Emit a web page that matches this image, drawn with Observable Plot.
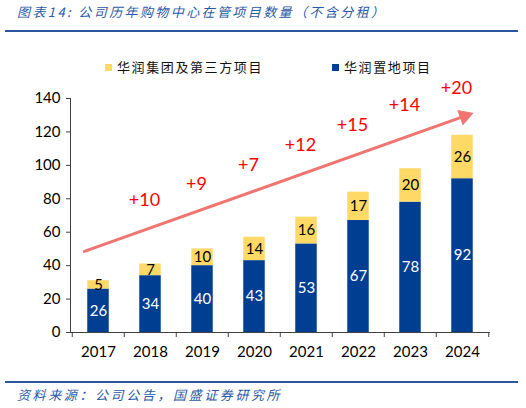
<!DOCTYPE html>
<html>
<head>
<meta charset="utf-8">
<script src="https://cdn.jsdelivr.net/npm/d3@7"></script>
<script src="https://cdn.jsdelivr.net/npm/@observablehq/plot@0.6"></script>
<style>
  html, body { margin: 0; padding: 0; background: #fff; }
  #wrap { position: relative; width: 526px; height: 408px; overflow: hidden; }
  #header { position: relative; width: 526px; height: 80px; }
  #title { position: absolute; left: 17px; top: 3px; font-family: "Noto Sans CJK SC", sans-serif; font-style: italic; font-size: 13px; letter-spacing: 2.4px; color: #2a5aa6; white-space: nowrap; line-height: 18px; }
  #rule1 { position: absolute; left: 5px; top: 30px; width: 513px; height: 2px; background: #2a55a0; }
  .leg { position: absolute; top: 59px; font-family: "Noto Sans CJK SC", sans-serif; font-size: 13px; letter-spacing: 1.6px; color: #111; white-space: nowrap; line-height: 16px; }
  .sw { display: inline-block; width: 7px; height: 7px; margin-right: 5px; vertical-align: 1px; }
  #chart { position: relative; height: 300px; }
  #footer { position: relative; height: 28px; }
  #rule2 { position: absolute; left: 5px; top: 1px; width: 513px; height: 1.5px; background: #2a55a0; }
  #source { position: absolute; left: 17px; top: 6px; font-family: "Noto Sans CJK SC", sans-serif; font-style: italic; font-size: 13px; letter-spacing: 2.6px; color: #2a5aa6; white-space: nowrap; line-height: 18px; }
</style>
</head>
<body>
<div id="wrap">
  <div id="header">
    <div id="title">图表14: 公司历年购物中心在管项目数量（不含分租）</div>
    <div id="rule1"></div>
    <div class="leg" style="left:105px"><span class="sw" style="background:#FFD966"></span>华润集团及第三方项目</div>
    <div class="leg" style="left:332px"><span class="sw" style="background:#003E92"></span>华润置地项目</div>
  </div>
  <div id="chart"></div>
  <div id="footer">
    <div id="rule2"></div>
    <div id="source">资料来源：公司公告，国盛证券研究所</div>
  </div>
</div>
<script>
// ---- data ----
const years = ["2017", "2018", "2019", "2020", "2021", "2022", "2023", "2024"];
const landProjects = [26, 34, 40, 43, 53, 67, 78, 92];      // 华润置地项目
const groupProjects = [5, 7, 10, 14, 16, 17, 20, 26];       // 华润集团及第三方项目
const incrementYears = ["2018", "2019", "2020", "2021", "2022", "2023", "2024"];
const increments = ["+10", "+9", "+7", "+12", "+15", "+14", "+20"];
const incrementLabelLevels = [79, 89, 100, 112, 124, 136, 146];
const arrowFrom = {year: "2017", value: 51.5};
const arrowTo = {year: "2024", value: 129};
const yTicks = [0, 20, 40, 60, 80, 100, 120, 140];

const BLUE = "#003E92";
const YELLOW = "#FFD966";
const ARROW = "#F07470";

const rows = years.map((year, i) => ({
  year,
  land: landProjects[i],
  group: groupProjects[i],
  total: landProjects[i] + groupProjects[i]
}));
const incRows = incrementYears.map((year, i) => ({year, text: increments[i], level: incrementLabelLevels[i]}));
const arrowRows = [{x1: arrowFrom.year, y1: arrowFrom.value, x2: arrowTo.year, y2: arrowTo.value}];

const W = 526, H = 300, mL = 70, mR = 36, mT = 18, mB = 48;
const yMax = 140;
const bw = (W - mL - mR) / years.length;
const inset = (bw - 22) / 2;
const axisColor = "#404040";

// arrow direction in pixels (for the filled head)
const pxPerUnit = (H - mT - mB) / yMax;
const dxPx = (years.indexOf(arrowTo.year) - years.indexOf(arrowFrom.year)) * bw;
const dyPx = (arrowTo.value - arrowFrom.value) * pxPerUnit;
const angle = Math.atan2(dyPx, dxPx) * 180 / Math.PI;

const chart = Plot.plot({
  width: W,
  height: H,
  marginLeft: mL,
  marginRight: mR,
  marginTop: mT,
  marginBottom: mB,
  style: {fontFamily: "Lato, sans-serif", overflow: "visible", background: "white", color: "#000"},
  x: {type: "band", domain: years, padding: 0},
  y: {domain: [0, yMax]},
  marks: [
    Plot.barY(rows, {x: "year", y1: 0, y2: "land", fill: BLUE, insetLeft: inset, insetRight: inset}),
    Plot.barY(rows, {x: "year", y1: "land", y2: "total", fill: YELLOW, insetLeft: inset, insetRight: inset}),
    Plot.frame({anchor: "left", stroke: axisColor}),
    Plot.axisY({ticks: yTicks, tickSize: 4, tickPadding: 6, fontSize: 15, stroke: axisColor, fill: "#000", label: null}),
    Plot.axisX({tickSize: 0, tickPadding: 14, fontSize: 15, fill: "#000", label: null}),
    Plot.ruleY([0], {stroke: axisColor}),
    Plot.ruleX(years, {x: d => d, y1: 0, y2: -3, dx: -bw / 2, stroke: axisColor}),
    Plot.ruleX([years[years.length - 1]], {x: d => d, y1: 0, y2: -3, dx: bw / 2, stroke: axisColor}),
    Plot.text(rows, {x: "year", y: d => d.land / 2, text: d => String(d.land), fill: "white", fontSize: 15}),
    Plot.text(rows, {x: "year", y: d => d.land + d.group / 2, text: d => String(d.group), fill: "#000", fontSize: 15}),
    Plot.arrow(arrowRows, {x1: "x1", y1: "y1", x2: "x2", y2: "y2", stroke: ARROW, strokeWidth: 3, insetStart: -15, headLength: 0}),
    Plot.dot(arrowRows, {x: "x2", y: "y2", symbol: "triangle", r: 5.5, fill: ARROW, stroke: ARROW, strokeWidth: 1, rotate: 90 - angle, dx: 2, dy: -0.7}),
    Plot.text(incRows, {x: "year", y: "level", text: "text", fill: "#FF0000", fontSize: 18, dx: -6})
  ]
});
document.getElementById("chart").appendChild(chart);
</script>
</body>
</html>
